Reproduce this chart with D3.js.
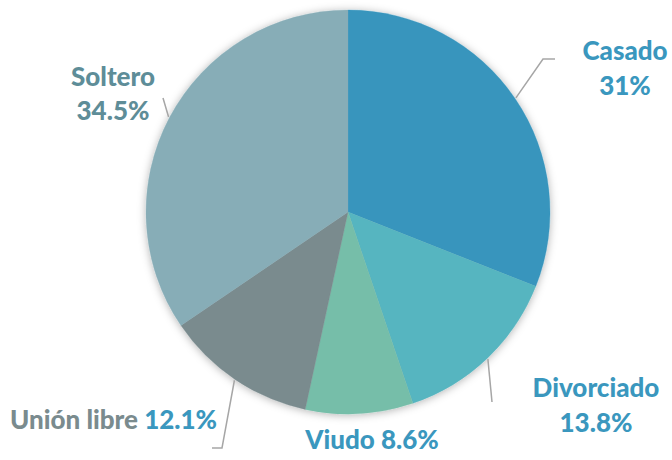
<!DOCTYPE html>
<html><head><meta charset="utf-8">
<script src="https://cdn.jsdelivr.net/npm/d3@7"></script>
<style>body{margin:0;background:#fff}svg{display:block}</style>
</head><body>
<script>
const categories = ["Casado","Divorciado","Viudo","Unión libre","Soltero"];
const values = [31, 13.8, 8.6, 12.1, 34.5];
const valueLabels = ["31%","13.8%","8.6%","12.1%","34.5%"];
const colors = ["#3795BD","#57B5C0","#76BEA9","#7A8B8E","#87ADB7"];

const W=672,H=460,cx=348,cy=212,R=202;
const svg=d3.select("body").append("svg").attr("width",W).attr("height",H);
const defs=svg.append("defs");
const f=defs.append("filter").attr("id","sh").attr("x","-20%").attr("y","-20%").attr("width","140%").attr("height","140%");
f.append("feDropShadow").attr("dx",0).attr("dy",1).attr("stdDeviation",4).attr("flood-color","#000").attr("flood-opacity",0.3);

const data=categories.map((c,i)=>({c,v:values[i],l:valueLabels[i],col:colors[i]}));
const pie=d3.pie().value(d=>d.v).sort(null);
const arcs=pie(data);
const arc=d3.arc().innerRadius(0).outerRadius(R);
const g=svg.append("g").attr("transform",`translate(${cx},${cy})`);
g.append("g").attr("filter","url(#sh)").selectAll("path").data(arcs).join("path")
 .attr("d",arc).attr("fill",d=>d.data.col).attr("stroke",d=>d.data.col).attr("stroke-width",0.3);

function edge(a,r){const m=(a.startAngle+a.endAngle)/2;return [cx+r*Math.sin(m),cy-r*Math.cos(m)];}
const leaders=[
 {i:0, pts:[[543,59],[555,59]]},
 {i:1, pts:[[492,402]]},
 {i:3, pts:[[222,448],[212,448]]},
 {i:4, pts:[[163,98]]}
];
const line=d3.line();
svg.append("g").selectAll("path").data(leaders).join("path")
 .attr("d",d=>line([edge(arcs[d.i],R+1),...d.pts]))
 .attr("fill","none").attr("stroke","#A6A6A6").attr("stroke-width",1.5);

const font="Lato, 'Open Sans', sans-serif";
const blue="#3A97BE", gray="#7A8B8E", teal="#5E8D98";
const T=svg.append("g").attr("font-family",font).attr("font-weight",900).attr("font-size",26);
function txt(x,y,anchor,parts){
  const t=T.append("text").attr("x",x).attr("y",y).attr("text-anchor",anchor);
  parts.forEach(p=>t.append("tspan").attr("fill",p[1]).text(p[0]));
}
txt(625,60,"middle",[[data[0].c,blue]]);
txt(625,95,"middle",[[data[0].l,blue]]);
txt(596,397,"middle",[[data[1].c,blue]]);
txt(596,432,"middle",[[data[1].l,blue]]);
txt(372,449,"middle",[[data[2].c+" "+data[2].l,blue]]);
txt(10,429,"start",[[data[3].c+" ",gray],[data[3].l,blue]]);
txt(113,86,"middle",[[data[4].c,teal]]);
txt(113,120,"middle",[[data[4].l,teal]]);
</script>
</body></html>
